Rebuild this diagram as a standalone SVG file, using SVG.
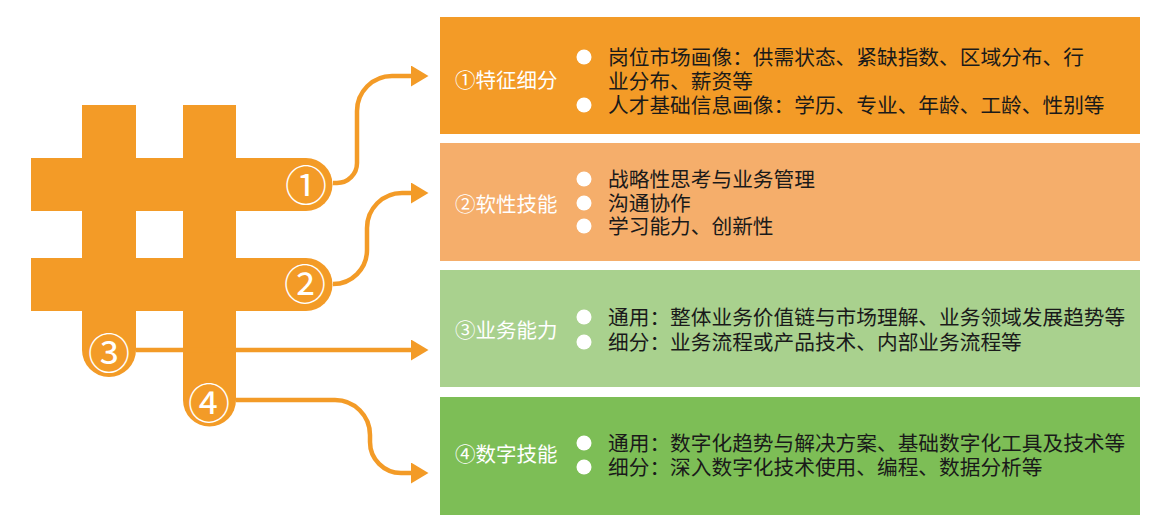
<svg xmlns="http://www.w3.org/2000/svg" width="1159" height="524" viewBox="0 0 1159 524">
<defs>
<marker id="arr" markerUnits="userSpaceOnUse" markerWidth="18" markerHeight="22" refX="0" refY="10.5" orient="auto">
<path d="M0,0 L17.5,10.5 L0,21 z" fill="#F39B27"/>
</marker>
<style>
.hash{fill:#F39B27}
.conn{fill:none;stroke:#F39B27;stroke-width:4.5;marker-end:url(#arr)}
.num{font-family:"Liberation Sans","Noto Sans CJK SC",sans-serif;font-size:42px;fill:#fff;text-anchor:middle}
.title{font-family:"Liberation Sans","Noto Sans CJK SC",sans-serif;font-size:20.5px;fill:#fff}
.item{font-family:"Liberation Sans","Noto Sans CJK SC",sans-serif;font-size:20.7px;fill:#1a1a1a}
.dot{fill:#fff}
</style>
</defs>
<rect width="1159" height="524" fill="#fff"/>

<g id="hash">
<path class="hash" d="M82,105 H136 V350 A27,27 0 0 1 82,350 Z"/>
<path class="hash" d="M183,105 H236 V400 A26.5,26.5 0 0 1 183,400 Z"/>
<path class="hash" d="M31,158 H306 A26.5,26.5 0 0 1 306,211 H31 Z"/>
<path class="hash" d="M31,258 H306 A26.5,26.5 0 0 1 306,311 H31 Z"/>
<text class="num" x="306" y="201">①</text>
<text class="num" x="305" y="300">②</text>
<text class="num" x="109" y="369">③</text>
<text class="num" x="209" y="419">④</text>
</g>

<g id="connectors">
<path class="conn" d="M333,183 L337,183 A20,20 0 0 0 357,163 L357,111 A35,35 0 0 1 392,76 L411,76"/>
<path class="conn" d="M333,284 A34,34 0 0 0 367,250 L367,228 A35,35 0 0 1 402,193 L411,193"/>
<path class="conn" d="M136,350 L411,350"/>
<path class="conn" d="M236,400 L335,400 A35,35 0 0 1 370,435 L370,442 A31,31 0 0 0 401,473 L411,473"/>
</g>

<g id="box1">
<rect x="440" y="17" width="700" height="117" fill="#F39B27"/>
<text class="title" x="455" y="87.5">①特征细分</text>
<circle class="dot" cx="584" cy="57" r="7.5"/>
<circle class="dot" cx="584" cy="105" r="7.5"/>
<text class="item" x="608" y="65">岗位市场画像：供需状态、紧缺指数、区域分布、行</text>
<text class="item" x="608" y="89">业分布、薪资等</text>
<text class="item" x="608" y="113">人才基础信息画像：学历、专业、年龄、工龄、性别等</text>
</g>

<g id="box2">
<rect x="440" y="143" width="700" height="118" fill="#F5AE6B"/>
<text class="title" x="455" y="212">②软性技能</text>
<circle class="dot" cx="584" cy="179" r="7.5"/>
<circle class="dot" cx="584" cy="203" r="7.5"/>
<circle class="dot" cx="584" cy="226" r="7.5"/>
<text class="item" x="608" y="187">战略性思考与业务管理</text>
<text class="item" x="608" y="211">沟通协作</text>
<text class="item" x="608" y="234">学习能力、创新性</text>
</g>

<g id="box3">
<rect x="440" y="270" width="700" height="117" fill="#A9D18E"/>
<text class="title" x="455" y="338">③业务能力</text>
<circle class="dot" cx="584" cy="317" r="7.5"/>
<circle class="dot" cx="584" cy="342" r="7.5"/>
<text class="item" x="608" y="325">通用：整体业务价值链与市场理解、业务领域发展趋势等</text>
<text class="item" x="608" y="350">细分：业务流程或产品技术、内部业务流程等</text>
</g>

<g id="box4">
<rect x="440" y="397" width="700" height="118" fill="#7DBE56"/>
<text class="title" x="455" y="462">④数字技能</text>
<circle class="dot" cx="584" cy="443" r="7.5"/>
<circle class="dot" cx="584" cy="467" r="7.5"/>
<text class="item" x="608" y="451">通用：数字化趋势与解决方案、基础数字化工具及技术等</text>
<text class="item" x="608" y="475">细分：深入数字化技术使用、编程、数据分析等</text>
</g>
</svg>
